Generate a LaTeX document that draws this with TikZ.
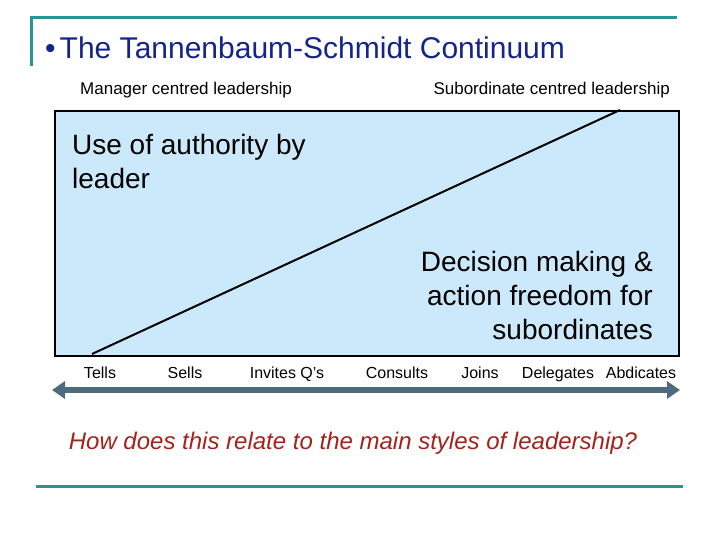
\documentclass[tikz,border=0pt]{standalone}
\usepackage{fontspec}
\setmainfont{Liberation Sans}
\usetikzlibrary{positioning,arrows.meta}

\definecolor{rule}{HTML}{2A9494}
\definecolor{titleblue}{HTML}{14248A}
\definecolor{boxfill}{HTML}{CCE9FB}
\definecolor{scalegrey}{HTML}{4E6B7E}
\definecolor{askred}{HTML}{A3231C}

\tikzset{
  heading/.style={font=\fontsize{17}{20}\selectfont, inner sep=0pt},
  bigtext/.style={font=\fontsize{28}{34}\selectfont, inner sep=0pt, align=left},
  step label/.style={font=\fontsize{16}{19}\selectfont, inner sep=0pt, anchor=base},
}

\begin{document}
\begin{tikzpicture}[x=1pt, y=-1pt]
        \useasboundingbox (0,0) rectangle (720,540);
        % frame lines
        \draw[rule, line width=3pt] (31,66) -- (31,18) -- (677,18);
        \draw[rule, line width=3pt] (36,486) -- (683,486);
        \node[anchor=base west, inner sep=0pt, text=titleblue, font=\fontsize{30}{34}\selectfont] (title) at (45,59) {\textbullet\hspace{4pt}The Tannenbaum-Schmidt Continuum};
        \node[heading, anchor=west] (manager) at (80,90) {Manager centred leadership};
        \node[heading, anchor=east] (subord) at (670,90) {Subordinate centred leadership};
        % the continuum
        \node[draw, line width=1.6pt, fill=boxfill, minimum width=624pt, minimum height=245pt, anchor=north west] (area) at (54,110) {};
        \coordinate (lowend) at (92,354);
        \coordinate (highend) at (620,110);
        \draw[line width=2pt] (lowend) -- (highend);
        \node[bigtext, anchor=north west] (authority) at (72,134) {Use of authority by\\leader};
        \node[bigtext, anchor=north east, align=right] (freedom) at (653,251) {Decision making \&\\action freedom for\\subordinates};
        \node[step label] (tells) at (100,378) {Tells};
        \node[step label] (sells) at (185,378) {Sells};
        \node[step label] (invites) at (287,378) {Invites Q's};
        \node[step label] (consults) at (397,378) {Consults};
        \node[step label] (joins) at (480,378) {Joins};
        \node[step label] (delegates) at (558,378) {Delegates};
        \node[step label] (abdicates) at (641,378) {Abdicates};
        \coordinate (scaleleft) at (52,390);
        \coordinate (scaleright) at (680,390);
        \draw[scalegrey, line width=6pt, {Triangle[length=13pt,width=17pt]}-{Triangle[length=13pt,width=17pt]}] (scaleleft) -- (scaleright);
        \node[text=askred, font=\fontsize{24}{28}\selectfont\itshape] (question) at (353,443) {How does this relate to the main styles of leadership?};
    \end{tikzpicture}
\end{document}
